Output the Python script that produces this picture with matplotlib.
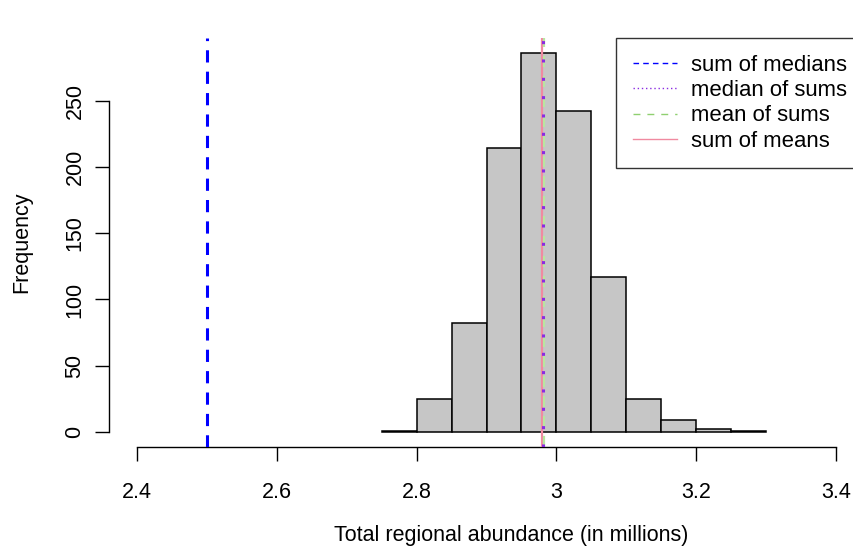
"""Histogram of simulated regional totals with reference lines."""

import matplotlib

matplotlib.use("Agg")
import matplotlib.pyplot as plt
from matplotlib.lines import Line2D

# Histogram bins (millions) and counts
bin_edges = [2.75, 2.80, 2.85, 2.90, 2.95, 3.00, 3.05, 3.10, 3.15, 3.20, 3.25, 3.30]
counts = [1, 25, 82, 214, 286, 242, 117, 25, 9, 2, 1]

# Summary statistics drawn as vertical lines
sum_of_medians = 2.50
median_of_sums = 2.981
mean_of_sums = 2.982
sum_of_means = 2.980

x_ticks = [2.4, 2.6, 2.8, 3.0, 3.2, 3.4]
x_tick_labels = ["2.4", "2.6", "2.8", "3", "3.2", "3.4"]
y_ticks = [0, 50, 100, 150, 200, 250]

plt.rcParams["font.family"] = ["Liberation Sans", "DejaVu Sans"]
FS = 15.5
W, H = 854, 554

fig = plt.figure(figsize=(W / 100, H / 100), dpi=100)
fig.patch.set_facecolor("white")

# plot region in pixels (right edge runs past the canvas)
left, right, top, bottom = 109, 864, 38, 447
ax = fig.add_axes([left / W, 1 - bottom / H, (right - left) / W, (bottom - top) / H])
ax.set_facecolor("none")

widths = [b - a for a, b in zip(bin_edges[:-1], bin_edges[1:])]
ax.bar(bin_edges[:-1], counts, width=widths, align="edge",
       color="#c6c6c6", edgecolor="black", linewidth=1.1, zorder=2)

ymax = max(counts)
ax.set_xlim(2.4 - 0.04, 3.4 + 0.04)
ax.set_ylim(-0.04 * ymax, ymax * 1.04)

ax.axvline(sum_of_medians, color="blue", linestyle=(0, (4, 3)), linewidth=2.2, zorder=3)
ax.axvline(sum_of_means, color="#f08aa0", linestyle="-", linewidth=1.6, zorder=3)
ax.axvline(mean_of_sums, color="#b8e6a0", linestyle=(0, (5, 4)), linewidth=1.6, zorder=3)
ax.axvline(median_of_sums, color="#8a2be2", linestyle=(0, (1, 5)), linewidth=2.2, zorder=4)

for side in ("top", "right"):
    ax.spines[side].set_visible(False)
ax.spines["bottom"].set_bounds(2.4, 3.4)
ax.spines["left"].set_bounds(0, 250)
for side in ("bottom", "left"):
    ax.spines[side].set_linewidth(1.0)

ax.set_xticks(x_ticks)
ax.set_xticklabels(x_tick_labels)
ax.set_yticks(y_ticks)
ax.tick_params(axis="both", direction="out", length=10, width=1.0, labelsize=FS)
ax.tick_params(axis="x", pad=15)
ax.tick_params(axis="y", pad=7)
for lbl in ax.get_yticklabels():
    lbl.set_rotation(90)
    lbl.set_va("center")

fig.text(511 / W, 1 - 535 / H, "Total regional abundance (in millions)",
         ha="center", va="center", fontsize=FS)
fig.text(22 / W, 1 - 242 / H, "Frequency", ha="center", va="center",
         rotation=90, fontsize=FS)

handles = [
    Line2D([], [], color="blue", linestyle=(0, (4, 3)), linewidth=1.0),
    Line2D([], [], color="#8a2be2", linestyle=(0, (1, 2)), linewidth=1.0),
    Line2D([], [], color="#8fd070", linestyle=(0, (5, 5)), linewidth=1.0),
    Line2D([], [], color="#f08aa0", linestyle="-", linewidth=1.0),
]
labels = ["sum of medians", "median of sums", "mean of sums", "sum of means"]
leg = ax.legend(handles, labels, loc="upper right",
                bbox_to_anchor=(right / W, 1 - top / H), bbox_transform=fig.transFigure,
                fontsize=15.9, frameon=True, fancybox=False, borderaxespad=0,
                handlelength=2.0, handletextpad=0.65, labelspacing=0.2,
                borderpad=0.75)
leg.get_frame().set_edgecolor("black")
leg.get_frame().set_linewidth(1.0)

fig.savefig("out.png", dpi=100, facecolor="white")
